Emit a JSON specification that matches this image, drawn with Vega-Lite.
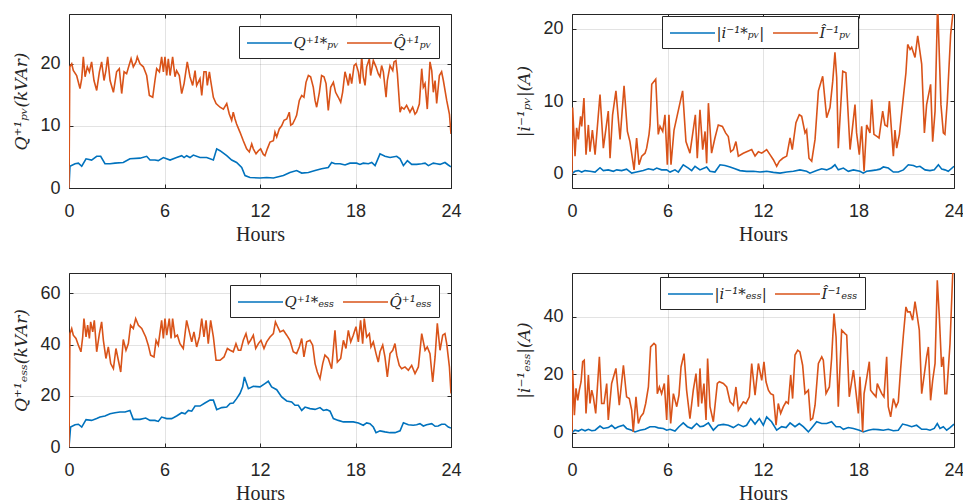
{
 "$schema": "https://vega.github.io/schema/vega-lite/v6.json",
 "padding": {"left": 12, "top": 13, "right": 0, "bottom": 0},
 "background": "white",
 "datasets": {
  "p1": [
   {"t":0,"v":0,"s":"a"},{"t":0.06,"v":3.5,"s":"a"},{"t":0.38,"v":3.9,"s":"a"},{"t":0.59,"v":4.0,"s":"a"},{"t":0.8,"v":3.5,"s":"a"},{"t":1.07,"v":4.7,"s":"a"},{"t":1.42,"v":4.5,"s":"a"},{"t":1.74,"v":5.1,"s":"a"},{"t":1.99,"v":5.1,"s":"a"},{"t":2.26,"v":3.9,"s":"a"},{"t":2.58,"v":3.9,"s":"a"},{"t":2.89,"v":4.0,"s":"a"},{"t":3.41,"v":4.1,"s":"a"},{"t":3.83,"v":4.7,"s":"a"},{"t":4.46,"v":4.8,"s":"a"},{"t":4.88,"v":5.1,"s":"a"},{"t":5.09,"v":4.5,"s":"a"},{"t":5.4,"v":4.5,"s":"a"},{"t":5.61,"v":4.4,"s":"a"},{"t":5.93,"v":4.9,"s":"a"},{"t":6.35,"v":4.5,"s":"a"},{"t":6.76,"v":4.9,"s":"a"},{"t":7.08,"v":5.2,"s":"a"},{"t":7.23,"v":4.9,"s":"a"},{"t":7.39,"v":5.2,"s":"a"},{"t":7.6,"v":4.9,"s":"a"},{"t":7.81,"v":5.3,"s":"a"},{"t":8.23,"v":4.9,"s":"a"},{"t":8.65,"v":4.9,"s":"a"},{"t":9.07,"v":4.5,"s":"a"},{"t":9.28,"v":6.3,"s":"a"},{"t":9.49,"v":6.0,"s":"a"},{"t":9.91,"v":5.2,"s":"a"},{"t":10.22,"v":4.5,"s":"a"},{"t":10.53,"v":4.1,"s":"a"},{"t":10.85,"v":3.3,"s":"a"},{"t":11.06,"v":2.0,"s":"a"},{"t":11.37,"v":1.7,"s":"a"},{"t":12.0,"v":1.6,"s":"a"},{"t":12.42,"v":1.7,"s":"a"},{"t":12.84,"v":1.6,"s":"a"},{"t":13.47,"v":2.0,"s":"a"},{"t":13.88,"v":2.5,"s":"a"},{"t":14.3,"v":2.8,"s":"a"},{"t":14.62,"v":2.4,"s":"a"},{"t":15.04,"v":2.5,"s":"a"},{"t":15.46,"v":2.8,"s":"a"},{"t":15.87,"v":3.1,"s":"a"},{"t":16.29,"v":3.3,"s":"a"},{"t":16.5,"v":4.1,"s":"a"},{"t":16.71,"v":3.9,"s":"a"},{"t":17.03,"v":3.9,"s":"a"},{"t":17.34,"v":3.7,"s":"a"},{"t":17.65,"v":4.0,"s":"a"},{"t":18.07,"v":4.0,"s":"a"},{"t":18.28,"v":3.8,"s":"a"},{"t":18.49,"v":4.0,"s":"a"},{"t":18.81,"v":3.9,"s":"a"},{"t":19.02,"v":4.1,"s":"a"},{"t":19.23,"v":3.6,"s":"a"},{"t":19.54,"v":5.5,"s":"a"},{"t":19.85,"v":5.1,"s":"a"},{"t":20.17,"v":4.9,"s":"a"},{"t":20.59,"v":5.1,"s":"a"},{"t":20.8,"v":4.7,"s":"a"},{"t":21.01,"v":3.6,"s":"a"},{"t":21.26,"v":4.4,"s":"a"},{"t":21.53,"v":3.8,"s":"a"},{"t":21.84,"v":3.8,"s":"a"},{"t":22.16,"v":3.9,"s":"a"},{"t":22.37,"v":4.0,"s":"a"},{"t":22.58,"v":3.6,"s":"a"},{"t":22.89,"v":4.0,"s":"a"},{"t":23.1,"v":3.9,"s":"a"},{"t":23.31,"v":3.8,"s":"a"},{"t":23.62,"v":4.1,"s":"a"},{"t":23.83,"v":3.7,"s":"a"},{"t":24.0,"v":3.4,"s":"a"},
   {"t":0,"v":0,"s":"b"},{"t":0.05,"v":19.5,"s":"b"},{"t":0.17,"v":20.0,"s":"b"},{"t":0.27,"v":18.9,"s":"b"},{"t":0.48,"v":18.1,"s":"b"},{"t":0.69,"v":16.0,"s":"b"},{"t":0.8,"v":17.6,"s":"b"},{"t":0.9,"v":21.1,"s":"b"},{"t":1.01,"v":17.9,"s":"b"},{"t":1.15,"v":19.5,"s":"b"},{"t":1.28,"v":18.7,"s":"b"},{"t":1.42,"v":20.3,"s":"b"},{"t":1.57,"v":17.3,"s":"b"},{"t":1.74,"v":15.7,"s":"b"},{"t":1.91,"v":18.7,"s":"b"},{"t":2.05,"v":20.3,"s":"b"},{"t":2.2,"v":17.3,"s":"b"},{"t":2.32,"v":18.9,"s":"b"},{"t":2.43,"v":21.1,"s":"b"},{"t":2.58,"v":17.3,"s":"b"},{"t":2.79,"v":15.4,"s":"b"},{"t":2.99,"v":18.7,"s":"b"},{"t":3.16,"v":19.2,"s":"b"},{"t":3.31,"v":15.2,"s":"b"},{"t":3.46,"v":18.7,"s":"b"},{"t":3.62,"v":18.4,"s":"b"},{"t":3.77,"v":19.7,"s":"b"},{"t":3.9,"v":20.8,"s":"b"},{"t":4.04,"v":19.5,"s":"b"},{"t":4.21,"v":20.3,"s":"b"},{"t":4.29,"v":21.1,"s":"b"},{"t":4.46,"v":20.0,"s":"b"},{"t":4.67,"v":19.5,"s":"b"},{"t":4.88,"v":18.1,"s":"b"},{"t":5.05,"v":14.9,"s":"b"},{"t":5.26,"v":14.6,"s":"b"},{"t":5.4,"v":17.3,"s":"b"},{"t":5.51,"v":19.2,"s":"b"},{"t":5.68,"v":18.7,"s":"b"},{"t":5.82,"v":21.1,"s":"b"},{"t":5.93,"v":18.7,"s":"b"},{"t":6.03,"v":21.1,"s":"b"},{"t":6.14,"v":18.1,"s":"b"},{"t":6.24,"v":20.8,"s":"b"},{"t":6.35,"v":18.1,"s":"b"},{"t":6.51,"v":21.1,"s":"b"},{"t":6.66,"v":17.9,"s":"b"},{"t":6.76,"v":18.9,"s":"b"},{"t":6.93,"v":18.1,"s":"b"},{"t":7.08,"v":15.2,"s":"b"},{"t":7.23,"v":16.8,"s":"b"},{"t":7.43,"v":20.3,"s":"b"},{"t":7.6,"v":17.9,"s":"b"},{"t":7.77,"v":16.5,"s":"b"},{"t":7.92,"v":18.9,"s":"b"},{"t":8.02,"v":16.5,"s":"b"},{"t":8.23,"v":17.6,"s":"b"},{"t":8.34,"v":14.9,"s":"b"},{"t":8.48,"v":18.7,"s":"b"},{"t":8.61,"v":18.7,"s":"b"},{"t":8.69,"v":16.5,"s":"b"},{"t":8.82,"v":18.7,"s":"b"},{"t":8.9,"v":17.3,"s":"b"},{"t":9.07,"v":14.6,"s":"b"},{"t":9.24,"v":13.6,"s":"b"},{"t":9.49,"v":13.0,"s":"b"},{"t":9.7,"v":12.7,"s":"b"},{"t":9.91,"v":13.6,"s":"b"},{"t":10.07,"v":11.9,"s":"b"},{"t":10.22,"v":10.9,"s":"b"},{"t":10.32,"v":12.2,"s":"b"},{"t":10.43,"v":11.1,"s":"b"},{"t":10.53,"v":10.3,"s":"b"},{"t":10.74,"v":9.0,"s":"b"},{"t":10.95,"v":7.6,"s":"b"},{"t":11.16,"v":6.3,"s":"b"},{"t":11.33,"v":5.8,"s":"b"},{"t":11.48,"v":7.1,"s":"b"},{"t":11.58,"v":6.3,"s":"b"},{"t":11.75,"v":5.5,"s":"b"},{"t":11.9,"v":6.0,"s":"b"},{"t":12.04,"v":6.3,"s":"b"},{"t":12.21,"v":5.4,"s":"b"},{"t":12.31,"v":5.2,"s":"b"},{"t":12.46,"v":6.3,"s":"b"},{"t":12.63,"v":7.4,"s":"b"},{"t":12.84,"v":7.6,"s":"b"},{"t":12.94,"v":9.0,"s":"b"},{"t":13.05,"v":8.2,"s":"b"},{"t":13.21,"v":9.5,"s":"b"},{"t":13.36,"v":10.0,"s":"b"},{"t":13.51,"v":10.9,"s":"b"},{"t":13.68,"v":11.1,"s":"b"},{"t":13.84,"v":12.2,"s":"b"},{"t":13.93,"v":10.1,"s":"b"},{"t":14.05,"v":10.3,"s":"b"},{"t":14.2,"v":11.1,"s":"b"},{"t":14.3,"v":11.7,"s":"b"},{"t":14.47,"v":14.1,"s":"b"},{"t":14.62,"v":14.9,"s":"b"},{"t":14.76,"v":14.6,"s":"b"},{"t":14.89,"v":17.0,"s":"b"},{"t":15.04,"v":18.1,"s":"b"},{"t":15.18,"v":17.9,"s":"b"},{"t":15.35,"v":16.2,"s":"b"},{"t":15.46,"v":14.1,"s":"b"},{"t":15.56,"v":13.0,"s":"b"},{"t":15.73,"v":15.4,"s":"b"},{"t":15.87,"v":18.1,"s":"b"},{"t":16.02,"v":17.9,"s":"b"},{"t":16.15,"v":16.8,"s":"b"},{"t":16.29,"v":12.5,"s":"b"},{"t":16.44,"v":16.2,"s":"b"},{"t":16.61,"v":17.0,"s":"b"},{"t":16.75,"v":15.4,"s":"b"},{"t":16.92,"v":14.6,"s":"b"},{"t":17.07,"v":13.8,"s":"b"},{"t":17.19,"v":15.4,"s":"b"},{"t":17.34,"v":18.7,"s":"b"},{"t":17.45,"v":17.6,"s":"b"},{"t":17.55,"v":16.5,"s":"b"},{"t":17.65,"v":18.4,"s":"b"},{"t":17.76,"v":16.8,"s":"b"},{"t":17.91,"v":19.7,"s":"b"},{"t":18.03,"v":20.0,"s":"b"},{"t":18.18,"v":18.7,"s":"b"},{"t":18.28,"v":16.8,"s":"b"},{"t":18.39,"v":21.1,"s":"b"},{"t":18.49,"v":17.9,"s":"b"},{"t":18.6,"v":16.5,"s":"b"},{"t":18.7,"v":19.5,"s":"b"},{"t":18.87,"v":20.8,"s":"b"},{"t":18.95,"v":18.1,"s":"b"},{"t":19.12,"v":20.5,"s":"b"},{"t":19.29,"v":19.5,"s":"b"},{"t":19.43,"v":18.4,"s":"b"},{"t":19.54,"v":17.9,"s":"b"},{"t":19.64,"v":19.7,"s":"b"},{"t":19.75,"v":18.7,"s":"b"},{"t":19.92,"v":14.6,"s":"b"},{"t":20.0,"v":17.3,"s":"b"},{"t":20.17,"v":19.7,"s":"b"},{"t":20.34,"v":18.9,"s":"b"},{"t":20.42,"v":20.3,"s":"b"},{"t":20.54,"v":20.5,"s":"b"},{"t":20.63,"v":18.4,"s":"b"},{"t":20.8,"v":12.2,"s":"b"},{"t":20.9,"v":13.0,"s":"b"},{"t":21.05,"v":12.7,"s":"b"},{"t":21.21,"v":13.3,"s":"b"},{"t":21.42,"v":12.2,"s":"b"},{"t":21.59,"v":13.0,"s":"b"},{"t":21.74,"v":11.9,"s":"b"},{"t":21.84,"v":12.2,"s":"b"},{"t":22.01,"v":13.5,"s":"b"},{"t":22.16,"v":19.2,"s":"b"},{"t":22.26,"v":16.2,"s":"b"},{"t":22.37,"v":16.8,"s":"b"},{"t":22.51,"v":12.7,"s":"b"},{"t":22.68,"v":20.3,"s":"b"},{"t":22.79,"v":18.9,"s":"b"},{"t":22.89,"v":15.4,"s":"b"},{"t":23.0,"v":17.3,"s":"b"},{"t":23.1,"v":13.6,"s":"b"},{"t":23.27,"v":18.1,"s":"b"},{"t":23.41,"v":18.7,"s":"b"},{"t":23.52,"v":17.3,"s":"b"},{"t":23.73,"v":14.1,"s":"b"},{"t":23.9,"v":11.9,"s":"b"},{"t":24.0,"v":8.7,"s":"b"}
  ],
  "p2": [
   {"t":0,"v":0,"s":"a"},{"t":0.19,"v":0.3,"s":"a"},{"t":0.4,"v":0.4,"s":"a"},{"t":0.61,"v":0.2,"s":"a"},{"t":0.82,"v":0.4,"s":"a"},{"t":1.13,"v":0.3,"s":"a"},{"t":1.45,"v":0.2,"s":"a"},{"t":1.76,"v":0.8,"s":"a"},{"t":1.97,"v":0.4,"s":"a"},{"t":2.28,"v":0.5,"s":"a"},{"t":2.6,"v":0.3,"s":"a"},{"t":2.81,"v":0.5,"s":"a"},{"t":3.12,"v":0.4,"s":"a"},{"t":3.43,"v":0.6,"s":"a"},{"t":3.75,"v":0.05,"s":"a"},{"t":4.06,"v":0.2,"s":"a"},{"t":4.48,"v":0.4,"s":"a"},{"t":4.8,"v":0.65,"s":"a"},{"t":5.11,"v":0.5,"s":"a"},{"t":5.32,"v":0.75,"s":"a"},{"t":5.63,"v":0.5,"s":"a"},{"t":5.95,"v":0.5,"s":"a"},{"t":6.16,"v":0.2,"s":"a"},{"t":6.47,"v":0.5,"s":"a"},{"t":6.68,"v":0.2,"s":"a"},{"t":6.99,"v":1.2,"s":"a"},{"t":7.31,"v":0.75,"s":"a"},{"t":7.52,"v":0.4,"s":"a"},{"t":7.73,"v":1.0,"s":"a"},{"t":8.04,"v":0.5,"s":"a"},{"t":8.46,"v":0.9,"s":"a"},{"t":8.67,"v":0.3,"s":"a"},{"t":8.98,"v":0.2,"s":"a"},{"t":9.3,"v":1.2,"s":"a"},{"t":9.61,"v":1.1,"s":"a"},{"t":9.93,"v":0.9,"s":"a"},{"t":10.24,"v":0.65,"s":"a"},{"t":10.55,"v":0.4,"s":"a"},{"t":10.97,"v":0.3,"s":"a"},{"t":11.39,"v":0.3,"s":"a"},{"t":11.81,"v":0.2,"s":"a"},{"t":12.23,"v":0.3,"s":"a"},{"t":12.65,"v":0.15,"s":"a"},{"t":13.07,"v":0.05,"s":"a"},{"t":13.49,"v":0.2,"s":"a"},{"t":13.91,"v":0.3,"s":"a"},{"t":14.32,"v":0.5,"s":"a"},{"t":14.74,"v":0.3,"s":"a"},{"t":14.95,"v":0.05,"s":"a"},{"t":15.37,"v":0.4,"s":"a"},{"t":15.69,"v":0.65,"s":"a"},{"t":16.0,"v":0.5,"s":"a"},{"t":16.31,"v":0.8,"s":"a"},{"t":16.52,"v":1.2,"s":"a"},{"t":16.73,"v":0.5,"s":"a"},{"t":17.05,"v":0.75,"s":"a"},{"t":17.36,"v":0.3,"s":"a"},{"t":17.68,"v":0.5,"s":"a"},{"t":18.09,"v":0.3,"s":"a"},{"t":18.3,"v":0.05,"s":"a"},{"t":18.51,"v":0.3,"s":"a"},{"t":18.83,"v":0.4,"s":"a"},{"t":19.14,"v":0.5,"s":"a"},{"t":19.35,"v":0.6,"s":"a"},{"t":19.56,"v":0.9,"s":"a"},{"t":19.87,"v":0.75,"s":"a"},{"t":20.19,"v":0.2,"s":"a"},{"t":20.5,"v":0.2,"s":"a"},{"t":20.82,"v":0.5,"s":"a"},{"t":21.13,"v":1.2,"s":"a"},{"t":21.45,"v":1.1,"s":"a"},{"t":21.65,"v":0.9,"s":"a"},{"t":21.86,"v":1.0,"s":"a"},{"t":22.18,"v":0.5,"s":"a"},{"t":22.49,"v":0.4,"s":"a"},{"t":22.76,"v":0.5,"s":"a"},{"t":23.02,"v":1.2,"s":"a"},{"t":23.23,"v":0.6,"s":"a"},{"t":23.43,"v":0.5,"s":"a"},{"t":23.64,"v":0.3,"s":"a"},{"t":24.0,"v":1.0,"s":"a"},
   {"t":0,"v":0,"s":"b"},{"t":0.04,"v":9.1,"s":"b"},{"t":0.19,"v":2.4,"s":"b"},{"t":0.29,"v":6.3,"s":"b"},{"t":0.4,"v":4.7,"s":"b"},{"t":0.46,"v":6.3,"s":"b"},{"t":0.54,"v":7.9,"s":"b"},{"t":0.61,"v":6.5,"s":"b"},{"t":0.75,"v":10.4,"s":"b"},{"t":0.88,"v":2.6,"s":"b"},{"t":1.03,"v":6.7,"s":"b"},{"t":1.13,"v":3.0,"s":"b"},{"t":1.28,"v":6.0,"s":"b"},{"t":1.45,"v":2.6,"s":"b"},{"t":1.76,"v":10.9,"s":"b"},{"t":1.97,"v":3.5,"s":"b"},{"t":2.28,"v":8.6,"s":"b"},{"t":2.39,"v":2.1,"s":"b"},{"t":2.55,"v":8.1,"s":"b"},{"t":2.76,"v":11.4,"s":"b"},{"t":3.02,"v":4.7,"s":"b"},{"t":3.27,"v":12.1,"s":"b"},{"t":3.48,"v":5.8,"s":"b"},{"t":3.64,"v":4.4,"s":"b"},{"t":3.9,"v":0.5,"s":"b"},{"t":4.06,"v":4.9,"s":"b"},{"t":4.21,"v":1.2,"s":"b"},{"t":4.38,"v":2.4,"s":"b"},{"t":4.59,"v":2.8,"s":"b"},{"t":4.69,"v":3.5,"s":"b"},{"t":4.84,"v":5.4,"s":"b"},{"t":4.9,"v":6.7,"s":"b"},{"t":5.01,"v":12.3,"s":"b"},{"t":5.26,"v":13.0,"s":"b"},{"t":5.42,"v":5.4,"s":"b"},{"t":5.53,"v":6.5,"s":"b"},{"t":5.7,"v":5.8,"s":"b"},{"t":5.84,"v":8.1,"s":"b"},{"t":5.99,"v":1.2,"s":"b"},{"t":6.09,"v":8.1,"s":"b"},{"t":6.22,"v":1.2,"s":"b"},{"t":6.41,"v":6.0,"s":"b"},{"t":6.95,"v":11.4,"s":"b"},{"t":7.16,"v":4.4,"s":"b"},{"t":7.41,"v":2.8,"s":"b"},{"t":7.75,"v":8.1,"s":"b"},{"t":7.87,"v":2.1,"s":"b"},{"t":8.04,"v":8.8,"s":"b"},{"t":8.21,"v":3.3,"s":"b"},{"t":8.36,"v":5.8,"s":"b"},{"t":8.46,"v":1.4,"s":"b"},{"t":8.57,"v":9.7,"s":"b"},{"t":8.77,"v":2.8,"s":"b"},{"t":8.98,"v":4.9,"s":"b"},{"t":9.19,"v":6.7,"s":"b"},{"t":9.45,"v":6.5,"s":"b"},{"t":9.65,"v":5.6,"s":"b"},{"t":9.82,"v":5.1,"s":"b"},{"t":9.97,"v":3.0,"s":"b"},{"t":10.14,"v":3.3,"s":"b"},{"t":10.3,"v":4.4,"s":"b"},{"t":10.45,"v":2.4,"s":"b"},{"t":10.76,"v":2.8,"s":"b"},{"t":11.29,"v":3.3,"s":"b"},{"t":11.5,"v":2.4,"s":"b"},{"t":11.71,"v":3.0,"s":"b"},{"t":11.92,"v":2.8,"s":"b"},{"t":12.23,"v":3.3,"s":"b"},{"t":12.44,"v":2.6,"s":"b"},{"t":12.65,"v":1.9,"s":"b"},{"t":12.86,"v":1.0,"s":"b"},{"t":13.03,"v":1.7,"s":"b"},{"t":13.24,"v":2.1,"s":"b"},{"t":13.49,"v":2.4,"s":"b"},{"t":13.7,"v":4.9,"s":"b"},{"t":13.84,"v":3.3,"s":"b"},{"t":14.07,"v":7.0,"s":"b"},{"t":14.28,"v":8.1,"s":"b"},{"t":14.43,"v":7.9,"s":"b"},{"t":14.64,"v":5.6,"s":"b"},{"t":14.74,"v":6.0,"s":"b"},{"t":14.89,"v":2.1,"s":"b"},{"t":15.06,"v":1.7,"s":"b"},{"t":15.27,"v":4.7,"s":"b"},{"t":15.48,"v":11.4,"s":"b"},{"t":15.75,"v":13.4,"s":"b"},{"t":16.0,"v":7.7,"s":"b"},{"t":16.21,"v":9.1,"s":"b"},{"t":16.38,"v":12.7,"s":"b"},{"t":16.52,"v":16.7,"s":"b"},{"t":16.63,"v":13.2,"s":"b"},{"t":16.73,"v":3.5,"s":"b"},{"t":17.01,"v":14.1,"s":"b"},{"t":17.21,"v":13.9,"s":"b"},{"t":17.47,"v":3.3,"s":"b"},{"t":17.78,"v":9.5,"s":"b"},{"t":17.88,"v":5.6,"s":"b"},{"t":18.05,"v":2.6,"s":"b"},{"t":18.2,"v":6.5,"s":"b"},{"t":18.35,"v":0.3,"s":"b"},{"t":18.51,"v":6.7,"s":"b"},{"t":18.72,"v":5.6,"s":"b"},{"t":18.83,"v":10.2,"s":"b"},{"t":18.97,"v":5.4,"s":"b"},{"t":19.18,"v":5.1,"s":"b"},{"t":19.29,"v":4.9,"s":"b"},{"t":19.52,"v":8.6,"s":"b"},{"t":19.66,"v":6.7,"s":"b"},{"t":19.81,"v":6.5,"s":"b"},{"t":19.94,"v":10.0,"s":"b"},{"t":20.19,"v":2.4,"s":"b"},{"t":20.29,"v":6.0,"s":"b"},{"t":20.4,"v":3.5,"s":"b"},{"t":20.57,"v":5.4,"s":"b"},{"t":20.98,"v":13.9,"s":"b"},{"t":21.09,"v":17.8,"s":"b"},{"t":21.24,"v":17.1,"s":"b"},{"t":21.34,"v":17.4,"s":"b"},{"t":21.55,"v":16.0,"s":"b"},{"t":21.72,"v":19.0,"s":"b"},{"t":21.97,"v":15.1,"s":"b"},{"t":22.14,"v":5.6,"s":"b"},{"t":22.28,"v":9.5,"s":"b"},{"t":22.53,"v":12.3,"s":"b"},{"t":22.66,"v":4.4,"s":"b"},{"t":22.81,"v":8.6,"s":"b"},{"t":22.97,"v":23.5,"s":"b"},{"t":23.18,"v":9.5,"s":"b"},{"t":23.33,"v":5.6,"s":"b"},{"t":23.43,"v":5.4,"s":"b"},{"t":23.58,"v":10.0,"s":"b"},{"t":23.79,"v":19.2,"s":"b"},{"t":24.0,"v":23.5,"s":"b"}
  ],
  "p3": [
   {"t":0,"v":0,"s":"a"},{"t":0.1,"v":7.8,"s":"a"},{"t":0.38,"v":8.7,"s":"a"},{"t":0.59,"v":8.9,"s":"a"},{"t":0.8,"v":7.8,"s":"a"},{"t":1.07,"v":10.7,"s":"a"},{"t":1.42,"v":10.4,"s":"a"},{"t":1.74,"v":11.1,"s":"a"},{"t":1.95,"v":11.7,"s":"a"},{"t":2.26,"v":12.1,"s":"a"},{"t":2.58,"v":13.0,"s":"a"},{"t":2.89,"v":13.4,"s":"a"},{"t":3.2,"v":13.7,"s":"a"},{"t":3.52,"v":13.7,"s":"a"},{"t":3.83,"v":14.3,"s":"a"},{"t":4.04,"v":10.8,"s":"a"},{"t":4.46,"v":10.8,"s":"a"},{"t":4.82,"v":11.3,"s":"a"},{"t":5.09,"v":10.4,"s":"a"},{"t":5.4,"v":10.4,"s":"a"},{"t":5.61,"v":10.0,"s":"a"},{"t":5.82,"v":11.7,"s":"a"},{"t":6.14,"v":11.1,"s":"a"},{"t":6.45,"v":11.1,"s":"a"},{"t":6.76,"v":12.1,"s":"a"},{"t":7.08,"v":13.4,"s":"a"},{"t":7.29,"v":13.0,"s":"a"},{"t":7.5,"v":14.3,"s":"a"},{"t":7.71,"v":14.0,"s":"a"},{"t":7.92,"v":16.0,"s":"a"},{"t":8.23,"v":16.0,"s":"a"},{"t":8.54,"v":17.2,"s":"a"},{"t":8.86,"v":18.3,"s":"a"},{"t":9.07,"v":18.3,"s":"a"},{"t":9.28,"v":14.6,"s":"a"},{"t":9.59,"v":15.4,"s":"a"},{"t":9.91,"v":15.6,"s":"a"},{"t":10.12,"v":17.0,"s":"a"},{"t":10.32,"v":17.2,"s":"a"},{"t":10.53,"v":18.9,"s":"a"},{"t":10.74,"v":20.9,"s":"a"},{"t":10.91,"v":23.5,"s":"a"},{"t":11.02,"v":27.4,"s":"a"},{"t":11.27,"v":22.8,"s":"a"},{"t":11.58,"v":23.7,"s":"a"},{"t":12.0,"v":23.5,"s":"a"},{"t":12.31,"v":24.8,"s":"a"},{"t":12.52,"v":25.7,"s":"a"},{"t":12.73,"v":23.5,"s":"a"},{"t":13.05,"v":22.4,"s":"a"},{"t":13.36,"v":19.6,"s":"a"},{"t":13.68,"v":18.0,"s":"a"},{"t":13.99,"v":17.6,"s":"a"},{"t":14.2,"v":16.3,"s":"a"},{"t":14.41,"v":16.3,"s":"a"},{"t":14.62,"v":14.3,"s":"a"},{"t":14.83,"v":15.6,"s":"a"},{"t":15.14,"v":15.0,"s":"a"},{"t":15.46,"v":14.7,"s":"a"},{"t":15.77,"v":15.4,"s":"a"},{"t":15.98,"v":14.3,"s":"a"},{"t":16.19,"v":14.6,"s":"a"},{"t":16.4,"v":14.0,"s":"a"},{"t":16.61,"v":11.1,"s":"a"},{"t":16.92,"v":10.4,"s":"a"},{"t":17.24,"v":9.8,"s":"a"},{"t":17.55,"v":9.8,"s":"a"},{"t":17.86,"v":9.8,"s":"a"},{"t":18.18,"v":9.4,"s":"a"},{"t":18.49,"v":8.5,"s":"a"},{"t":18.7,"v":9.4,"s":"a"},{"t":18.91,"v":9.1,"s":"a"},{"t":19.12,"v":7.8,"s":"a"},{"t":19.29,"v":5.6,"s":"a"},{"t":19.54,"v":6.3,"s":"a"},{"t":19.85,"v":5.9,"s":"a"},{"t":20.17,"v":5.6,"s":"a"},{"t":20.48,"v":5.6,"s":"a"},{"t":20.8,"v":6.3,"s":"a"},{"t":21.01,"v":9.5,"s":"a"},{"t":21.32,"v":8.7,"s":"a"},{"t":21.63,"v":8.5,"s":"a"},{"t":21.84,"v":8.7,"s":"a"},{"t":22.05,"v":9.1,"s":"a"},{"t":22.26,"v":8.2,"s":"a"},{"t":22.47,"v":8.7,"s":"a"},{"t":22.79,"v":9.1,"s":"a"},{"t":23.0,"v":8.1,"s":"a"},{"t":23.2,"v":8.2,"s":"a"},{"t":23.41,"v":8.9,"s":"a"},{"t":23.62,"v":8.9,"s":"a"},{"t":23.83,"v":7.8,"s":"a"},{"t":24.0,"v":7.4,"s":"a"},
   {"t":0,"v":0,"s":"b"},{"t":0.06,"v":44.3,"s":"b"},{"t":0.17,"v":46.3,"s":"b"},{"t":0.27,"v":43.7,"s":"b"},{"t":0.44,"v":42.4,"s":"b"},{"t":0.59,"v":39.8,"s":"b"},{"t":0.75,"v":37.2,"s":"b"},{"t":0.86,"v":43.0,"s":"b"},{"t":0.94,"v":50.2,"s":"b"},{"t":1.07,"v":43.0,"s":"b"},{"t":1.17,"v":47.6,"s":"b"},{"t":1.28,"v":42.4,"s":"b"},{"t":1.36,"v":48.9,"s":"b"},{"t":1.49,"v":45.0,"s":"b"},{"t":1.59,"v":49.5,"s":"b"},{"t":1.74,"v":37.2,"s":"b"},{"t":1.91,"v":44.3,"s":"b"},{"t":2.05,"v":48.9,"s":"b"},{"t":2.16,"v":41.7,"s":"b"},{"t":2.32,"v":34.6,"s":"b"},{"t":2.47,"v":39.1,"s":"b"},{"t":2.62,"v":32.6,"s":"b"},{"t":2.79,"v":30.6,"s":"b"},{"t":2.95,"v":38.5,"s":"b"},{"t":3.1,"v":33.9,"s":"b"},{"t":3.25,"v":29.3,"s":"b"},{"t":3.41,"v":42.0,"s":"b"},{"t":3.58,"v":37.8,"s":"b"},{"t":3.73,"v":40.4,"s":"b"},{"t":3.87,"v":47.6,"s":"b"},{"t":4.04,"v":46.3,"s":"b"},{"t":4.19,"v":50.2,"s":"b"},{"t":4.36,"v":47.6,"s":"b"},{"t":4.57,"v":46.3,"s":"b"},{"t":4.82,"v":43.0,"s":"b"},{"t":4.98,"v":39.8,"s":"b"},{"t":5.13,"v":35.9,"s":"b"},{"t":5.34,"v":35.2,"s":"b"},{"t":5.47,"v":41.7,"s":"b"},{"t":5.61,"v":39.8,"s":"b"},{"t":5.82,"v":49.5,"s":"b"},{"t":5.93,"v":42.4,"s":"b"},{"t":6.03,"v":50.2,"s":"b"},{"t":6.14,"v":43.7,"s":"b"},{"t":6.3,"v":50.2,"s":"b"},{"t":6.41,"v":42.4,"s":"b"},{"t":6.51,"v":50.2,"s":"b"},{"t":6.66,"v":43.0,"s":"b"},{"t":6.81,"v":43.7,"s":"b"},{"t":6.97,"v":40.4,"s":"b"},{"t":7.18,"v":38.5,"s":"b"},{"t":7.39,"v":49.5,"s":"b"},{"t":7.56,"v":45.0,"s":"b"},{"t":7.71,"v":41.1,"s":"b"},{"t":7.85,"v":45.0,"s":"b"},{"t":8.02,"v":39.1,"s":"b"},{"t":8.19,"v":43.0,"s":"b"},{"t":8.34,"v":50.2,"s":"b"},{"t":8.48,"v":43.0,"s":"b"},{"t":8.61,"v":49.5,"s":"b"},{"t":8.75,"v":40.4,"s":"b"},{"t":8.9,"v":49.5,"s":"b"},{"t":9.07,"v":43.0,"s":"b"},{"t":9.24,"v":33.9,"s":"b"},{"t":9.49,"v":33.9,"s":"b"},{"t":9.74,"v":35.2,"s":"b"},{"t":9.95,"v":38.5,"s":"b"},{"t":10.12,"v":37.8,"s":"b"},{"t":10.32,"v":37.2,"s":"b"},{"t":10.49,"v":40.4,"s":"b"},{"t":10.64,"v":37.8,"s":"b"},{"t":10.79,"v":37.8,"s":"b"},{"t":10.95,"v":41.7,"s":"b"},{"t":11.12,"v":44.3,"s":"b"},{"t":11.27,"v":40.4,"s":"b"},{"t":11.41,"v":41.7,"s":"b"},{"t":11.58,"v":43.7,"s":"b"},{"t":11.73,"v":38.5,"s":"b"},{"t":11.9,"v":40.4,"s":"b"},{"t":12.06,"v":41.7,"s":"b"},{"t":12.25,"v":38.5,"s":"b"},{"t":12.42,"v":41.1,"s":"b"},{"t":12.63,"v":43.0,"s":"b"},{"t":12.84,"v":44.3,"s":"b"},{"t":12.97,"v":48.9,"s":"b"},{"t":13.11,"v":47.0,"s":"b"},{"t":13.26,"v":45.0,"s":"b"},{"t":13.47,"v":45.6,"s":"b"},{"t":13.68,"v":43.7,"s":"b"},{"t":13.88,"v":41.7,"s":"b"},{"t":14.09,"v":37.2,"s":"b"},{"t":14.3,"v":36.5,"s":"b"},{"t":14.47,"v":39.1,"s":"b"},{"t":14.62,"v":42.4,"s":"b"},{"t":14.76,"v":35.2,"s":"b"},{"t":14.93,"v":41.1,"s":"b"},{"t":15.14,"v":41.7,"s":"b"},{"t":15.31,"v":39.8,"s":"b"},{"t":15.46,"v":32.6,"s":"b"},{"t":15.6,"v":29.3,"s":"b"},{"t":15.77,"v":26.7,"s":"b"},{"t":15.94,"v":32.6,"s":"b"},{"t":16.08,"v":35.9,"s":"b"},{"t":16.29,"v":34.6,"s":"b"},{"t":16.5,"v":30.6,"s":"b"},{"t":16.71,"v":45.6,"s":"b"},{"t":16.86,"v":33.2,"s":"b"},{"t":17.07,"v":34.6,"s":"b"},{"t":17.24,"v":41.7,"s":"b"},{"t":17.4,"v":38.5,"s":"b"},{"t":17.55,"v":45.6,"s":"b"},{"t":17.7,"v":41.1,"s":"b"},{"t":17.86,"v":43.7,"s":"b"},{"t":18.03,"v":47.0,"s":"b"},{"t":18.18,"v":41.1,"s":"b"},{"t":18.32,"v":49.5,"s":"b"},{"t":18.45,"v":40.4,"s":"b"},{"t":18.55,"v":50.2,"s":"b"},{"t":18.7,"v":43.0,"s":"b"},{"t":18.87,"v":44.3,"s":"b"},{"t":18.97,"v":39.1,"s":"b"},{"t":19.12,"v":41.1,"s":"b"},{"t":19.29,"v":36.5,"s":"b"},{"t":19.43,"v":33.2,"s":"b"},{"t":19.54,"v":37.2,"s":"b"},{"t":19.71,"v":39.8,"s":"b"},{"t":19.85,"v":35.2,"s":"b"},{"t":20.0,"v":27.4,"s":"b"},{"t":20.17,"v":36.5,"s":"b"},{"t":20.34,"v":37.8,"s":"b"},{"t":20.48,"v":40.4,"s":"b"},{"t":20.59,"v":35.9,"s":"b"},{"t":20.75,"v":31.9,"s":"b"},{"t":20.9,"v":30.6,"s":"b"},{"t":21.11,"v":31.3,"s":"b"},{"t":21.32,"v":30.0,"s":"b"},{"t":21.53,"v":31.9,"s":"b"},{"t":21.74,"v":28.7,"s":"b"},{"t":21.95,"v":31.3,"s":"b"},{"t":22.16,"v":44.3,"s":"b"},{"t":22.37,"v":37.8,"s":"b"},{"t":22.51,"v":39.1,"s":"b"},{"t":22.68,"v":36.5,"s":"b"},{"t":22.85,"v":25.4,"s":"b"},{"t":23.0,"v":35.2,"s":"b"},{"t":23.14,"v":48.3,"s":"b"},{"t":23.31,"v":37.8,"s":"b"},{"t":23.48,"v":43.7,"s":"b"},{"t":23.62,"v":44.3,"s":"b"},{"t":23.73,"v":40.4,"s":"b"},{"t":23.9,"v":31.3,"s":"b"},{"t":24.0,"v":20.9,"s":"b"}
  ],
  "p4": [
   {"t":0,"v":0,"s":"a"},{"t":0.19,"v":0.8,"s":"a"},{"t":0.4,"v":0.5,"s":"a"},{"t":0.61,"v":1.1,"s":"a"},{"t":0.82,"v":0.6,"s":"a"},{"t":1.03,"v":1.1,"s":"a"},{"t":1.24,"v":0.6,"s":"a"},{"t":1.45,"v":0.8,"s":"a"},{"t":1.76,"v":2.2,"s":"a"},{"t":1.97,"v":1.4,"s":"a"},{"t":2.28,"v":1.7,"s":"a"},{"t":2.49,"v":2.5,"s":"a"},{"t":2.7,"v":1.4,"s":"a"},{"t":2.91,"v":2.0,"s":"a"},{"t":3.23,"v":2.5,"s":"a"},{"t":3.43,"v":1.4,"s":"a"},{"t":3.75,"v":0.8,"s":"a"},{"t":3.96,"v":0.2,"s":"a"},{"t":4.27,"v":0.8,"s":"a"},{"t":4.59,"v":1.1,"s":"a"},{"t":4.9,"v":2.0,"s":"a"},{"t":5.21,"v":2.0,"s":"a"},{"t":5.42,"v":1.6,"s":"a"},{"t":5.74,"v":1.4,"s":"a"},{"t":5.95,"v":0.8,"s":"a"},{"t":6.16,"v":1.1,"s":"a"},{"t":6.47,"v":0.5,"s":"a"},{"t":6.72,"v":2.0,"s":"a"},{"t":6.99,"v":3.3,"s":"a"},{"t":7.25,"v":2.0,"s":"a"},{"t":7.52,"v":1.4,"s":"a"},{"t":7.83,"v":3.1,"s":"a"},{"t":8.04,"v":2.0,"s":"a"},{"t":8.25,"v":2.2,"s":"a"},{"t":8.57,"v":3.3,"s":"a"},{"t":8.88,"v":0.8,"s":"a"},{"t":9.19,"v":2.5,"s":"a"},{"t":9.51,"v":2.8,"s":"a"},{"t":9.82,"v":2.5,"s":"a"},{"t":10.14,"v":1.7,"s":"a"},{"t":10.45,"v":2.8,"s":"a"},{"t":10.76,"v":2.0,"s":"a"},{"t":10.97,"v":2.5,"s":"a"},{"t":11.23,"v":4.8,"s":"a"},{"t":11.5,"v":2.9,"s":"a"},{"t":11.77,"v":4.8,"s":"a"},{"t":12.02,"v":2.5,"s":"a"},{"t":12.23,"v":5.4,"s":"a"},{"t":12.54,"v":3.7,"s":"a"},{"t":12.86,"v":0.8,"s":"a"},{"t":13.17,"v":2.0,"s":"a"},{"t":13.45,"v":1.7,"s":"a"},{"t":13.7,"v":3.3,"s":"a"},{"t":14.01,"v":2.0,"s":"a"},{"t":14.28,"v":3.1,"s":"a"},{"t":14.53,"v":2.0,"s":"a"},{"t":14.85,"v":0.2,"s":"a"},{"t":15.12,"v":2.0,"s":"a"},{"t":15.37,"v":3.7,"s":"a"},{"t":15.69,"v":3.1,"s":"a"},{"t":16.0,"v":3.1,"s":"a"},{"t":16.31,"v":3.7,"s":"a"},{"t":16.59,"v":2.0,"s":"a"},{"t":16.84,"v":2.0,"s":"a"},{"t":17.05,"v":1.1,"s":"a"},{"t":17.36,"v":1.7,"s":"a"},{"t":17.68,"v":1.4,"s":"a"},{"t":18.05,"v":0.8,"s":"a"},{"t":18.3,"v":0.2,"s":"a"},{"t":18.62,"v":0.8,"s":"a"},{"t":18.93,"v":1.1,"s":"a"},{"t":19.25,"v":1.0,"s":"a"},{"t":19.56,"v":0.8,"s":"a"},{"t":19.87,"v":1.1,"s":"a"},{"t":20.19,"v":0.6,"s":"a"},{"t":20.5,"v":0.8,"s":"a"},{"t":20.77,"v":2.9,"s":"a"},{"t":21.07,"v":2.5,"s":"a"},{"t":21.34,"v":2.0,"s":"a"},{"t":21.65,"v":2.5,"s":"a"},{"t":21.97,"v":1.1,"s":"a"},{"t":22.28,"v":1.1,"s":"a"},{"t":22.49,"v":0.8,"s":"a"},{"t":22.76,"v":1.4,"s":"a"},{"t":22.95,"v":3.1,"s":"a"},{"t":23.12,"v":1.4,"s":"a"},{"t":23.33,"v":2.0,"s":"a"},{"t":23.54,"v":0.8,"s":"a"},{"t":23.75,"v":1.7,"s":"a"},{"t":24.0,"v":2.9,"s":"a"},
   {"t":0,"v":0,"s":"b"},{"t":0.04,"v":21.5,"s":"b"},{"t":0.15,"v":6.0,"s":"b"},{"t":0.25,"v":15.2,"s":"b"},{"t":0.36,"v":11.1,"s":"b"},{"t":0.46,"v":14.6,"s":"b"},{"t":0.57,"v":17.5,"s":"b"},{"t":0.67,"v":24.4,"s":"b"},{"t":0.77,"v":24.9,"s":"b"},{"t":0.88,"v":6.6,"s":"b"},{"t":1.03,"v":19.8,"s":"b"},{"t":1.13,"v":10.0,"s":"b"},{"t":1.24,"v":14.6,"s":"b"},{"t":1.34,"v":12.3,"s":"b"},{"t":1.49,"v":6.6,"s":"b"},{"t":1.72,"v":26.1,"s":"b"},{"t":1.86,"v":10.0,"s":"b"},{"t":2.01,"v":10.0,"s":"b"},{"t":2.18,"v":16.9,"s":"b"},{"t":2.28,"v":4.3,"s":"b"},{"t":2.49,"v":16.9,"s":"b"},{"t":2.76,"v":22.1,"s":"b"},{"t":2.97,"v":9.4,"s":"b"},{"t":3.23,"v":23.2,"s":"b"},{"t":3.43,"v":12.3,"s":"b"},{"t":3.6,"v":11.7,"s":"b"},{"t":3.75,"v":7.7,"s":"b"},{"t":3.85,"v":0.2,"s":"b"},{"t":4.02,"v":12.3,"s":"b"},{"t":4.17,"v":3.1,"s":"b"},{"t":4.31,"v":5.4,"s":"b"},{"t":4.48,"v":6.6,"s":"b"},{"t":4.63,"v":10.0,"s":"b"},{"t":4.8,"v":15.7,"s":"b"},{"t":4.94,"v":29.5,"s":"b"},{"t":5.15,"v":30.7,"s":"b"},{"t":5.26,"v":30.1,"s":"b"},{"t":5.36,"v":13.4,"s":"b"},{"t":5.49,"v":15.7,"s":"b"},{"t":5.63,"v":13.4,"s":"b"},{"t":5.8,"v":16.9,"s":"b"},{"t":5.95,"v":4.3,"s":"b"},{"t":6.05,"v":19.8,"s":"b"},{"t":6.2,"v":3.1,"s":"b"},{"t":6.37,"v":13.4,"s":"b"},{"t":6.58,"v":8.9,"s":"b"},{"t":6.72,"v":12.9,"s":"b"},{"t":6.85,"v":22.6,"s":"b"},{"t":7.04,"v":27.2,"s":"b"},{"t":7.2,"v":14.6,"s":"b"},{"t":7.41,"v":4.8,"s":"b"},{"t":7.62,"v":14.6,"s":"b"},{"t":7.79,"v":20.3,"s":"b"},{"t":7.94,"v":8.9,"s":"b"},{"t":8.04,"v":22.1,"s":"b"},{"t":8.15,"v":10.0,"s":"b"},{"t":8.29,"v":16.9,"s":"b"},{"t":8.42,"v":4.3,"s":"b"},{"t":8.52,"v":25.5,"s":"b"},{"t":8.67,"v":8.9,"s":"b"},{"t":8.88,"v":3.7,"s":"b"},{"t":9.13,"v":16.9,"s":"b"},{"t":9.26,"v":17.5,"s":"b"},{"t":9.51,"v":16.9,"s":"b"},{"t":9.72,"v":15.7,"s":"b"},{"t":9.93,"v":10.6,"s":"b"},{"t":10.14,"v":9.4,"s":"b"},{"t":10.3,"v":15.7,"s":"b"},{"t":10.45,"v":7.7,"s":"b"},{"t":10.76,"v":10.6,"s":"b"},{"t":10.93,"v":10.0,"s":"b"},{"t":11.14,"v":12.3,"s":"b"},{"t":11.29,"v":23.8,"s":"b"},{"t":11.5,"v":12.9,"s":"b"},{"t":11.71,"v":23.8,"s":"b"},{"t":11.92,"v":18.0,"s":"b"},{"t":12.06,"v":24.4,"s":"b"},{"t":12.19,"v":17.5,"s":"b"},{"t":12.34,"v":14.6,"s":"b"},{"t":12.48,"v":13.4,"s":"b"},{"t":12.65,"v":12.9,"s":"b"},{"t":12.82,"v":2.5,"s":"b"},{"t":12.96,"v":10.0,"s":"b"},{"t":13.11,"v":6.6,"s":"b"},{"t":13.28,"v":8.9,"s":"b"},{"t":13.45,"v":10.6,"s":"b"},{"t":13.59,"v":10.0,"s":"b"},{"t":13.74,"v":19.8,"s":"b"},{"t":13.86,"v":11.7,"s":"b"},{"t":14.01,"v":26.7,"s":"b"},{"t":14.18,"v":28.4,"s":"b"},{"t":14.32,"v":27.8,"s":"b"},{"t":14.49,"v":23.2,"s":"b"},{"t":14.64,"v":13.4,"s":"b"},{"t":14.85,"v":14.6,"s":"b"},{"t":14.99,"v":4.3,"s":"b"},{"t":15.12,"v":4.8,"s":"b"},{"t":15.27,"v":9.4,"s":"b"},{"t":15.48,"v":23.8,"s":"b"},{"t":15.69,"v":26.1,"s":"b"},{"t":15.79,"v":24.9,"s":"b"},{"t":15.96,"v":13.4,"s":"b"},{"t":16.17,"v":15.7,"s":"b"},{"t":16.31,"v":25.5,"s":"b"},{"t":16.46,"v":41.0,"s":"b"},{"t":16.59,"v":33.0,"s":"b"},{"t":16.73,"v":8.9,"s":"b"},{"t":16.94,"v":35.3,"s":"b"},{"t":17.15,"v":34.1,"s":"b"},{"t":17.26,"v":33.6,"s":"b"},{"t":17.42,"v":12.3,"s":"b"},{"t":17.68,"v":21.5,"s":"b"},{"t":17.78,"v":16.9,"s":"b"},{"t":17.99,"v":6.6,"s":"b"},{"t":18.09,"v":19.2,"s":"b"},{"t":18.26,"v":0.2,"s":"b"},{"t":18.35,"v":13.4,"s":"b"},{"t":18.51,"v":18.6,"s":"b"},{"t":18.68,"v":24.4,"s":"b"},{"t":18.76,"v":14.6,"s":"b"},{"t":18.93,"v":13.4,"s":"b"},{"t":19.1,"v":12.3,"s":"b"},{"t":19.18,"v":16.9,"s":"b"},{"t":19.31,"v":15.2,"s":"b"},{"t":19.46,"v":13.4,"s":"b"},{"t":19.6,"v":12.3,"s":"b"},{"t":19.77,"v":26.1,"s":"b"},{"t":19.87,"v":8.9,"s":"b"},{"t":20.02,"v":5.4,"s":"b"},{"t":20.19,"v":11.7,"s":"b"},{"t":20.36,"v":8.9,"s":"b"},{"t":20.5,"v":10.6,"s":"b"},{"t":20.65,"v":22.1,"s":"b"},{"t":20.82,"v":33.6,"s":"b"},{"t":20.98,"v":43.3,"s":"b"},{"t":21.09,"v":41.6,"s":"b"},{"t":21.24,"v":41.6,"s":"b"},{"t":21.4,"v":38.7,"s":"b"},{"t":21.55,"v":45.1,"s":"b"},{"t":21.7,"v":39.8,"s":"b"},{"t":21.82,"v":35.3,"s":"b"},{"t":21.97,"v":13.4,"s":"b"},{"t":22.14,"v":20.3,"s":"b"},{"t":22.28,"v":26.1,"s":"b"},{"t":22.39,"v":29.5,"s":"b"},{"t":22.53,"v":11.1,"s":"b"},{"t":22.66,"v":18.0,"s":"b"},{"t":22.81,"v":23.8,"s":"b"},{"t":22.95,"v":52.5,"s":"b"},{"t":23.08,"v":39.8,"s":"b"},{"t":23.22,"v":22.6,"s":"b"},{"t":23.33,"v":26.1,"s":"b"},{"t":23.43,"v":13.4,"s":"b"},{"t":23.54,"v":13.4,"s":"b"},{"t":23.75,"v":30.7,"s":"b"},{"t":23.92,"v":54.8,"s":"b"},{"t":24.0,"v":55.0,"s":"b"}
  ]
 },
 "columns": 2,
 "spacing": {"row": 85, "column": 121},
 "bounds": "flush",
 "resolve": {"scale": {"color": "independent", "x": "independent", "y": "independent"}, "legend": {"color": "independent"}},
 "concat": [
  {
   "width": 382, "height": 174,
   "data": {"name": "p1"},
   "layer": [
    {"mark": {"type": "line", "clip": true},
     "encoding": {
      "x": {"field": "t", "type": "quantitative", "scale": {"domain": [0, 24], "nice": false}, "axis": {"values": [0, 6, 12, 18, 24], "title": "Hours"}},
      "y": {"field": "v", "type": "quantitative", "scale": {"domain": [0, 28], "nice": false}, "axis": {"values": [0, 10, 20], "title": "Q\u207A\u00B9\u209A\u1D65(kVAr)"}},
      "color": {"field": "s", "type": "nominal", "scale": {"domain": ["a", "b"], "range": ["#0072BD", "#D95319"]},
        "legend": {"orient": "top-right", "symbolType": "M-2.5,0H2.5", "labelExpr": "datum.label == 'a' ? 'Q\u207A\u00B9*\u209A\u1D65' : 'Q\u0302\u207A\u00B9\u209A\u1D65'"}}
     }},
    {"mark": {"type": "line", "opacity": 0, "clip": true},
     "encoding": {
      "x": {"field": "t", "type": "quantitative", "axis": {"orient": "top", "values": [0, 6, 12, 18, 24], "labels": false, "grid": false, "title": null}},
      "y": {"field": "v", "type": "quantitative", "axis": {"orient": "right", "values": [0, 10, 20], "labels": false, "grid": false, "title": null}},
      "detail": {"field": "s"}
     }}
   ],
   "resolve": {"axis": {"x": "independent", "y": "independent"}}
  },
  {
   "width": 382, "height": 174,
   "data": {"name": "p2"},
   "layer": [
    {"mark": {"type": "line", "clip": true},
     "encoding": {
      "x": {"field": "t", "type": "quantitative", "scale": {"domain": [0, 24], "nice": false}, "axis": {"values": [0, 6, 12, 18, 24], "title": "Hours"}},
      "y": {"field": "v", "type": "quantitative", "scale": {"domain": [-2, 22], "nice": false, "zero": false}, "axis": {"values": [0, 10, 20], "title": "|i\u207B\u00B9\u209A\u1D65|(A)"}},
      "color": {"field": "s", "type": "nominal", "scale": {"domain": ["a", "b"], "range": ["#0072BD", "#D95319"]},
        "legend": {"orient": "none", "legendX": 90, "legendY": 2, "symbolType": "M-2.5,0H2.5", "labelExpr": "datum.label == 'a' ? '|i\u207B\u00B9*\u209A\u1D65|' : '\u00CE\u207B\u00B9\u209A\u1D65'"}}
     }},
    {"mark": {"type": "line", "opacity": 0, "clip": true},
     "encoding": {
      "x": {"field": "t", "type": "quantitative", "axis": {"orient": "top", "values": [0, 6, 12, 18, 24], "labels": false, "grid": false, "title": null}},
      "y": {"field": "v", "type": "quantitative", "axis": {"orient": "right", "values": [0, 10, 20], "labels": false, "grid": false, "title": null}},
      "detail": {"field": "s"}
     }}
   ],
   "resolve": {"axis": {"x": "independent", "y": "independent"}}
  },
  {
   "width": 382, "height": 174,
   "data": {"name": "p3"},
   "layer": [
    {"mark": {"type": "line", "clip": true},
     "encoding": {
      "x": {"field": "t", "type": "quantitative", "scale": {"domain": [0, 24], "nice": false}, "axis": {"values": [0, 6, 12, 18, 24], "title": "Hours"}},
      "y": {"field": "v", "type": "quantitative", "scale": {"domain": [0, 68], "nice": false}, "axis": {"values": [0, 20, 40, 60], "title": "Q\u207A\u00B9\u2091\u209B\u209B(kVAr)"}},
      "color": {"field": "s", "type": "nominal", "scale": {"domain": ["a", "b"], "range": ["#0072BD", "#D95319"]},
        "legend": {"orient": "top-right", "symbolType": "M-2.5,0H2.5", "labelExpr": "datum.label == 'a' ? 'Q\u207A\u00B9*\u2091\u209B\u209B' : 'Q\u0302\u207A\u00B9\u2091\u209B\u209B'"}}
     }},
    {"mark": {"type": "line", "opacity": 0, "clip": true},
     "encoding": {
      "x": {"field": "t", "type": "quantitative", "axis": {"orient": "top", "values": [0, 6, 12, 18, 24], "labels": false, "grid": false, "title": null}},
      "y": {"field": "v", "type": "quantitative", "axis": {"orient": "right", "values": [0, 20, 40, 60], "labels": false, "grid": false, "title": null}},
      "detail": {"field": "s"}
     }}
   ],
   "resolve": {"axis": {"x": "independent", "y": "independent"}}
  },
  {
   "width": 382, "height": 174,
   "data": {"name": "p4"},
   "layer": [
    {"mark": {"type": "line", "clip": true},
     "encoding": {
      "x": {"field": "t", "type": "quantitative", "scale": {"domain": [0, 24], "nice": false}, "axis": {"values": [0, 6, 12, 18, 24], "title": "Hours"}},
      "y": {"field": "v", "type": "quantitative", "scale": {"domain": [-5, 55], "nice": false, "zero": false}, "axis": {"values": [0, 20, 40], "title": "|i\u207B\u00B9\u2091\u209B\u209B|(A)"}},
      "color": {"field": "s", "type": "nominal", "scale": {"domain": ["a", "b"], "range": ["#0072BD", "#D95319"]},
        "legend": {"orient": "none", "legendX": 88, "legendY": 4, "symbolType": "M-2.5,0H2.5", "labelExpr": "datum.label == 'a' ? '|i\u207B\u00B9*\u2091\u209B\u209B|' : '\u00CE\u207B\u00B9\u2091\u209B\u209B'"}}
     }},
    {"mark": {"type": "line", "opacity": 0, "clip": true},
     "encoding": {
      "x": {"field": "t", "type": "quantitative", "axis": {"orient": "top", "values": [0, 6, 12, 18, 24], "labels": false, "grid": false, "title": null}},
      "y": {"field": "v", "type": "quantitative", "axis": {"orient": "right", "values": [0, 20, 40], "labels": false, "grid": false, "title": null}},
      "detail": {"field": "s"}
     }}
   ],
   "resolve": {"axis": {"x": "independent", "y": "independent"}}
  }
 ],
 "config": {
  "view": {"stroke": "#262626", "strokeWidth": 1},
  "line": {"strokeWidth": 1.6},
  "axis": {
   "labelFont": "Liberation Sans", "labelFontSize": 18, "labelColor": "#262626",
   "domain": false, "tickColor": "#262626", "tickSize": -4, "tickWidth": 1,
   "gridColor": "#262626", "gridOpacity": 0.13, "gridWidth": 1,
   "titleFont": "DejaVu Serif", "titleFontSize": 17, "titleFontWeight": "normal", "titleColor": "#262626",
   "labelFlush": false, "labelOverlap": false
  },
  "axisX": {"labelPadding": 18, "titlePadding": 4, "titleFont": "Liberation Serif", "titleFontSize": 20},
  "axisY": {"labelPadding": 13, "titlePadding": 9, "titleFontStyle": "italic"},
  "legend": {
   "direction": "horizontal", "title": null, "offset": 12,
   "strokeColor": "#262626", "fillColor": "white", "padding": 7,
   "symbolSize": 324, "symbolOffset": 13.5, "symbolStrokeWidth": 1.6,
   "labelFont": "DejaVu Serif", "labelFontStyle": "italic", "labelFontSize": 15, "labelColor": "#262626",
   "columnPadding": 4, "labelOffset": 14
  }
 }
}
